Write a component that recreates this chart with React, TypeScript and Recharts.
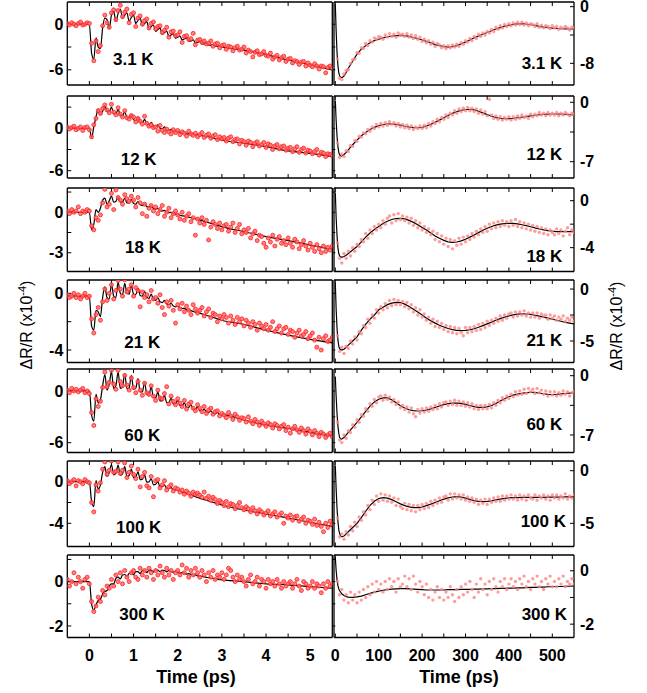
import React from "react";
import { ComposedChart, Scatter, Line, XAxis, YAxis } from "recharts";

const FONT = '"Liberation Sans", Arial, Helvetica, sans-serif';

const TEMPS = ["3.1 K", "12 K", "18 K", "21 K", "60 K", "100 K", "300 K"];

// time grids (ps)
const L_T = [
  -0.5, -0.45, -0.4, -0.35, -0.3, -0.25, -0.2, -0.15, -0.1, -0.05,
  0, 0.05, 0.1, 0.15, 0.2, 0.25, 0.3, 0.35, 0.4, 0.45,
  0.5, 0.55, 0.6, 0.65, 0.7, 0.75, 0.8, 0.85, 0.9, 0.95,
  1, 1.05, 1.1, 1.15, 1.2, 1.25, 1.3, 1.35, 1.4, 1.45,
  1.5, 1.55, 1.6, 1.65, 1.7, 1.75, 1.8, 1.85, 1.9, 1.95,
  2, 2.05, 2.1, 2.15, 2.2, 2.25, 2.3, 2.35, 2.4, 2.45,
  2.5, 2.55, 2.6, 2.65, 2.7, 2.75, 2.8, 2.85, 2.9, 2.95,
  3, 3.05, 3.1, 3.15, 3.2, 3.25, 3.3, 3.35, 3.4, 3.45,
  3.5, 3.55, 3.6, 3.65, 3.7, 3.75, 3.8, 3.85, 3.9, 3.95,
  4, 4.05, 4.1, 4.15, 4.2, 4.25, 4.3, 4.35, 4.4, 4.45,
  4.5, 4.55, 4.6, 4.65, 4.7, 4.75, 4.8, 4.85, 4.9, 4.95,
  5, 5.05, 5.1, 5.15, 5.2, 5.25, 5.3, 5.35, 5.4, 5.45,
  5.5,
];
const L_FIT_T = [
  -0.5, 0,
  0.05, 0.1, 0.15, 0.2, 0.25, 0.3, 0.35, 0.4, 0.45, 0.5,
  0.55, 0.6, 0.65, 0.7, 0.75, 0.8, 0.85, 0.9, 0.95, 1,
  1.05, 1.1, 1.15, 1.2, 1.25, 1.3, 1.35, 1.4, 1.45, 1.5,
  1.55, 1.6, 1.65, 1.7, 1.75, 1.8, 1.85, 1.9, 1.95, 2,
  2.05, 2.1, 2.15, 2.2, 2.25, 2.3, 2.35, 2.4, 2.45, 2.5,
  2.55, 2.6, 2.65, 2.7, 2.75, 2.8, 2.85, 2.9, 2.95, 3,
  3.5, 4, 4.5, 5, 5.5,
];
const R_T = [
  5, 10, 15, 20, 25, 30, 35, 40, 45, 50,
  55, 60, 65, 70, 75, 80, 85, 90, 95, 100,
  105, 110, 115, 120, 125, 130, 135, 140, 145, 150,
  155, 160, 165, 170, 175, 180, 185, 190, 195, 200,
  205, 210, 215, 220, 225, 230, 235, 240, 245, 250,
  255, 260, 265, 270, 275, 280, 285, 290, 295, 300,
  305, 310, 315, 320, 325, 330, 335, 340, 345, 350,
  355, 360, 365, 370, 375, 380, 385, 390, 395, 400,
  405, 410, 415, 420, 425, 430, 435, 440, 445, 450,
  455, 460, 465, 470, 475, 480, 485, 490, 495, 500,
  505, 510, 515, 520, 525, 530, 535, 540, 545, 550,
];
const R_FIT_T = [
  0, 2, 4, 6, 8, 10, 13, 16, 20, 25, 30,
  40, 50, 60, 70, 80, 90, 100, 110, 120, 130,
  140, 150, 160, 170, 180, 190, 200, 210, 220, 230,
  240, 250, 260, 270, 280, 290, 300, 310, 320, 330,
  340, 350, 360, 370, 380, 390, 400, 410, 420, 430,
  440, 450, 460, 470, 480, 490, 500, 510, 520, 530,
  540, 550,
];

const L_XTICKS = [0, 0.5, 1, 1.5, 2, 2.5, 3, 3.5, 4, 4.5, 5];
const R_XTICKS = [0, 50, 100, 150, 200, 250, 300, 350, 400, 450, 500];

// ---------- short delay (ps) ----------
const L_DATA_3_1K = [
  0.1, -0.1, 0.2, 0, -0.2, 0.1, 0.3, -0.1, 0, 0.2,
  0.1, -2.5, -4.8, -2.2, -3.6, -2.8, -0.2, 1.2, 0.2, -0.4,
  1.5, 1.9, 0.6, 1.8, 2.5, 1.0, 1.6, 2.0, 0.2, 1.3,
  1.5, -0.3, 0.8, 1.1, 0.0, 0.5, 0.7, -0.5, 0.1, 0.3,
  -0.6, -0.3, -0.2, -1.1, -0.8, -0.4, -1.7, -1.0, -0.9, -1.5,
  -1.4, -1.0, -2.4, -1.6, -1.5, -2.0, -1.9, -1.2, -2.7, -2.1,
  -2.0, -2.4, -2.2, -2.6, -2.5, -2.2, -2.9, -2.6, -2.5, -3.1,
  -2.8, -2.7, -3.3, -2.9, -3.0, -3.5, -3.1, -2.9, -3.4, -3.3,
  -3.0, -3.8, -3.4, -3.6, -4.3, -3.7, -3.5, -4.0, -3.9, -3.6,
  -4.1, -4.2, -3.8, -4.6, -4.3, -4.1, -4.7, -4.4, -4.2, -4.9,
  -4.6, -4.5, -5.1, -4.8, -4.9, -5.3, -5.0, -4.9, -5.5, -5.1,
  -5.4, -5.6, -5.2, -5.5, -5.9, -5.5, -5.6, -6.4, -5.7, -5.5,
  -5.8,
];
const L_FIT_3_1K = [
  0, 0,
  -3.8, -4.6, -1.8, -3.0, -3.2, -0.5, 0.8, 0.6, -0.6, 1.2,
  1.7, 0.4, 1.4, 2.0, 0.8, 1.2, 1.5, 0.4, 0.9, 1.2,
  0.1, 0.5, 0.8, -0.2, 0.1, 0.35, -0.6, -0.3, -0.1, -0.95,
  -0.7, -0.5, -1.3, -1.1, -0.9, -1.6, -1.4, -1.25, -1.85, -1.7,
  -1.55, -2.05, -1.95, -1.8, -2.25, -2.2, -2.05, -2.45, -2.4, -2.25,
  -2.6, -2.6, -2.45, -2.75, -2.75, -2.65, -2.9, -2.9, -2.85, -3.0,
  -3.4, -4.0, -4.7, -5.35, -6.0,
];

const L_DATA_12K = [
  0.2, -0.1, 0.1, 0.3, -0.2, 0, 0.2, -0.3, 0.1, 0.2,
  -0.2, -1.2, 0.5, 1.4, 2.5, 2.1, 2.8, 3.3, 2.6, 2.2,
  3.4, 2.3, 1.9, 2.9, 2.0, 1.6, 2.5, 1.5, 1.3, 1.8,
  1.6, 0.9, 1.4, 1.0, 0.6, 1.7, 0.7, 0.3, 0.5, 0.1,
  0.2, -0.4, 0.4, -0.3, -0.6, -0.1, -0.5, -0.8, -0.2, -0.6,
  -0.3, -0.9, -0.5, -0.7, -1.1, -0.4, -0.8, -1.0, -0.7, -1.2,
  -0.9, -0.6, -1.3, -1.0, -0.8, -1.4, -1.1, -0.9, -1.6, -1.2,
  -1.5, -1.3, -1.8, -1.4, -1.2, -1.9, -1.6, -1.5, -2.2, -1.7,
  -1.9, -2.4, -1.8, -2.0, -2.6, -2.1, -1.9, -2.5, -2.3, -2.0,
  -2.7, -2.2, -2.4, -3.0, -2.5, -2.3, -2.9, -2.6, -2.5, -3.1,
  -2.8, -2.7, -3.3, -2.9, -2.6, -3.4, -3.0, -2.8, -3.5, -3.1,
  -3.2, -3.6, -3.3, -3.0, -3.8, -3.4, -3.5, -4.0, -3.6, -3.7,
  -3.9,
];
const L_FIT_12K = [
  0, 0,
  -1.4, 0.2, 1.6, 2.7, 2.0, 2.4, 3.2, 2.4, 2.3, 3.0,
  2.1, 2.0, 2.7, 1.85, 1.75, 2.35, 1.55, 1.45, 1.95, 1.2,
  1.1, 1.6, 0.9, 0.8, 1.25, 0.6, 0.5, 0.85, 0.3, 0.2,
  0.5, 0.0, -0.05, 0.2, -0.25, -0.3, -0.15, -0.45, -0.5, -0.4,
  -0.6, -0.65, -0.6, -0.75, -0.8, -0.75, -0.85, -0.9, -0.85, -0.95,
  -1.05, -1.1, -1.15, -1.2, -1.3, -1.35, -1.45, -1.5, -1.55, -1.65,
  -2.1, -2.6, -3.2, -3.55, -4.0,
];

const L_DATA_18K = [
  0.1, -0.1, 0.2, 0.0, 0.1, 0.4, -0.1, 0.1, 0.0, 0.2,
  0.1, -1.0, -1.3, -0.4, -0.6, -0.2, 0.7, 1.7, 0.4, 0.6,
  1.4, 0.2, 1.65, 1.1, 0.9, 0.6, 1.3, 1.0, 0.8, 1.2,
  0.9, 0.4, 1.1, 0.7, -0.1, 0.6, -0.3, 0.3, 0.5, 0.1,
  0.4, -0.1, 0.2, 0.5, -0.3, 0.0, 0.3, -0.4, -0.1, 0.1,
  -0.2, -0.5, 0.0, -0.6, -0.3, -0.1, -0.7, -0.4, -1.7, -0.5,
  -0.8, -0.4, -0.9, -0.6, -2.05, -1.1, -0.7, -0.9, -1.2, -0.8,
  -1.3, -1.0, -0.9, -1.4, -1.1, -0.8, -1.5, -1.2, -0.9, -1.6,
  -1.3, -1.5, -1.2, -1.9, -1.6, -1.4, -2.1, -1.7, -1.8, -2.3,
  -2.6, -1.9, -2.2, -1.7, -2.5, -2.0, -1.8, -2.3, -2.1, -2.4,
  -1.9, -2.3, -2.6, -2.0, -2.2, -2.7, -2.4, -2.1, -2.5, -2.8,
  -2.3, -2.6, -2.9, -2.4, -2.7, -3.0, -2.5, -2.9, -2.6, -2.8,
  -2.5,
];
const L_FIT_18K = [
  0, 0,
  -1.3, -0.9, 0.2, 0.0, 0.3, 0.9, 1.05, 0.6, 0.85, 1.2,
  0.75, 0.8, 1.15, 0.75, 0.75, 1.05, 0.7, 0.7, 0.95, 0.65,
  0.6, 0.8, 0.55, 0.5, 0.65, 0.42, 0.38, 0.48, 0.28, 0.24,
  0.3, 0.14, 0.1, 0.14, 0.02, -0.02, 0.0, -0.1, -0.14, -0.16,
  -0.22, -0.26, -0.28, -0.33, -0.36, -0.4, -0.44, -0.48, -0.52, -0.57,
  -0.62, -0.67, -0.72, -0.77, -0.82, -0.87, -0.92, -0.97, -1.01, -1.06,
  -1.44, -1.8, -2.1, -2.43, -2.75,
];

const L_DATA_21K = [
  -0.1, -0.3, -0.2, 0.0, -0.3, -0.1, -0.4, -0.2, 0.0, -0.3,
  -0.2, -1.8, -2.8, -1.5, -1.0, -1.9, -0.6, 0.3, -0.5, 0.0,
  0.6, -0.4, 0.2, 0.9, 0.3, -0.2, 0.95, 0.1, 0.3, 0.6,
  -0.2, 0.4, 0.2, -0.95, 0.1, -0.3, -0.1, -0.6, 0.2, -0.4,
  -0.3, -0.7, -0.1, -1.0, -1.5, -0.6, -0.9, -0.5, -1.2, -2.1,
  -0.8, -1.1, -0.7, -1.3, -0.9, -1.2, -1.5, -0.8, -1.1, -1.4,
  -1.2, -1.0, -1.6, -1.3, -1.1, -1.7, -1.4, -1.5, -2.0, -1.6,
  -1.8, -1.5, -1.7, -2.1, -1.6, -1.9, -2.2, -1.7, -2.0, -1.8,
  -2.3, -1.9, -2.1, -2.4, -2.0, -2.2, -2.6, -2.1, -2.3, -2.5,
  -2.2, -2.6, -2.4, -2.0, -2.7, -2.5, -2.3, -2.8, -2.5, -2.4,
  -2.9, -2.6, -2.7, -3.1, -2.8, -2.6, -3.0, -2.9, -2.7, -3.2,
  -3.0, -2.8, -3.3, -3.8, -3.1, -4.0, -3.2, -3.0, -3.4, -3.3,
  -3.1,
];
const L_FIT_21K = [
  -0.2, -0.2,
  -2.3, -2.6, -1.2, -1.3, -1.65, -0.3, 0.45, -0.3, -0.4, 0.65,
  -0.2, -0.3, 0.8, 0.0, -0.1, 0.7, 0.0, -0.05, 0.55, -0.05,
  -0.1, 0.35, -0.15, -0.2, 0.15, -0.3, -0.35, -0.05, -0.45, -0.5,
  -0.3, -0.6, -0.65, -0.5, -0.75, -0.8, -0.7, -0.9, -0.95, -0.9,
  -1.02, -1.07, -1.06, -1.15, -1.2, -1.22, -1.28, -1.33, -1.36, -1.4,
  -1.45, -1.5, -1.55, -1.6, -1.65, -1.7, -1.75, -1.8, -1.85, -1.9,
  -2.2, -2.6, -2.95, -3.25, -3.5,
];

const L_DATA_60K = [
  0.1, -0.2, 0.3, 0.0, 0.2, -0.1, 0.1, 0.3, -0.2, 0.0,
  -0.3, -2.5, -4.0, -0.9, -1.8, -1.2, 0.4, 2.2, 0.5, 1.0,
  2.4, 0.8, 0.2, 2.4, 1.1, 0.6, 1.8, 0.7, 0.1, 1.5,
  0.4, -0.2, 1.1, 0.1, -0.5, 0.9, -0.2, -0.4, 0.6, -0.6,
  -1.1, 0.1, -0.8, -0.9, -0.3, 0.5, -1.5, -0.6, -1.2, -1.6,
  -0.9, -1.4, -1.8, -1.1, -2.1, -1.5, -1.3, -2.0, -2.3, -1.6,
  -2.0, -2.4, -1.8, -2.6, -2.2, -2.0, -2.7, -2.4, -2.3, -2.9,
  -2.6, -2.8, -3.1, -2.5, -2.9, -3.3, -2.7, -3.0, -3.4, -3.1,
  -3.2, -3.6, -3.0, -3.5, -3.8, -3.3, -3.6, -4.0, -3.5, -3.8,
  -4.1, -3.7, -3.9, -4.3, -3.8, -4.0, -4.4, -4.1, -3.9, -4.6,
  -4.2, -4.9, -4.4, -4.1, -4.5, -4.8, -4.3, -4.6, -5.0, -4.4,
  -4.7, -5.1, -4.6, -4.9, -5.3, -4.8, -5.0, -5.4, -5.1, -4.9,
  -5.3,
];
const L_FIT_60K = [
  0, 0,
  -2.8, -3.5, -0.4, -1.4, -1.0, 0.6, 1.9, 0.1, 0.8, 2.25,
  0.3, 0.6, 2.2, 0.3, 0.5, 2.0, 0.25, 0.35, 1.8, 0.2,
  0.3, 1.45, -0.1, -0.1, 1.0, -0.4, -0.45, 0.5, -0.75, -0.8,
  -0.1, -1.15, -1.15, -0.5, -1.35, -1.35, -0.8, -1.5, -1.5, -1.05,
  -1.7, -1.7, -1.35, -1.9, -1.9, -1.6, -2.1, -2.1, -1.85, -2.3,
  -2.3, -2.1, -2.45, -2.5, -2.3, -2.6, -2.65, -2.5, -2.75, -2.75,
  -3.37, -3.95, -4.35, -4.8, -5.2,
];

const L_DATA_100K = [
  0.1, -0.2, 0.0, 0.2, -0.4, 0.1, 0.0, -0.2, 0.2, 0.0,
  -0.1, -2.0, -2.9, -0.3, -0.9, -0.1, 1.2, 1.9, 0.7, 1.1,
  2.0, 0.9, 1.0, 1.9, 0.8, 1.1, 1.8, 0.4, 0.9, 1.5,
  0.7, 0.3, 1.2, -0.5, 0.5, 0.9, -0.4, -0.6, 0.5, -1.45,
  0.1, 0.2, -0.6, -0.3, 0.1, -0.8, -0.5, -0.3, -0.9, -0.6,
  -0.7, -1.0, -0.8, -1.2, -0.9, -1.1, -1.4, -1.0, -1.2, -1.1,
  -1.3, -1.5, -1.0, -1.6, -1.4, -1.8, -1.5, -1.7, -2.1, -1.8,
  -2.0, -2.3, -1.9, -2.4, -2.1, -2.2, -2.6, -2.3, -2.0, -2.5,
  -2.7, -2.4, -2.6, -2.9, -2.5, -2.8, -3.1, -2.7, -2.9, -3.2,
  -3.0, -2.8, -3.3, -3.1, -2.9, -3.4, -3.2, -3.0, -4.0, -3.3,
  -3.5, -3.2, -3.7, -3.4, -3.3, -3.8, -3.6, -3.4, -4.0, -3.7,
  -3.8, -4.1, -3.6, -4.2, -3.9, -4.3, -4.8, -4.0, -4.4, -3.8,
  -4.1,
];
const L_FIT_100K = [
  0, 0,
  -1.9, -2.4, 0.1, -0.7, -0.3, 0.9, 1.45, 0.5, 0.9, 1.65,
  0.65, 0.8, 1.6, 0.6, 0.75, 1.45, 0.5, 0.6, 1.2, 0.4,
  0.45, 0.95, 0.2, 0.25, 0.65, -0.05, 0.0, 0.3, -0.3, -0.25,
  0.0, -0.5, -0.45, -0.3, -0.65, -0.65, -0.55, -0.8, -0.8, -0.8,
  -0.9, -0.98, -1.05, -1.12, -1.2, -1.28, -1.36, -1.44, -1.52, -1.6,
  -1.66, -1.72, -1.78, -1.85, -1.92, -1.98, -2.05, -2.11, -2.18, -2.24,
  -2.72, -3.1, -3.5, -3.9, -4.3,
];

const L_DATA_300K = [
  0.1, -0.2, 0.0, 0.4, -0.1, 0.2, 0.0, -0.3, 0.1, 0.2,
  -0.1, -0.9, -1.35, -1.1, -0.7, -0.9, -0.4, -0.6, -0.2, -0.3,
  0.1, -0.2, 0.3, 0.0, 0.4, -0.1, 0.5, 0.2, 0.0, 0.4,
  0.5, 0.2, 0.1, 0.6, 0.3, 0.5, 0.2, 0.6, 0.4, 0.1,
  0.5, 0.3, 0.7, 0.4, 0.2, 0.6, 0.3, 0.5, 0.1, 0.4,
  0.5, 0.3, 0.75, 0.4, 0.6, 0.2, 0.5, 0.3, 0.6, 0.4,
  0.2, 0.5, 0.3, 0.0, 0.4, 0.2, 0.5, 0.1, 0.3, 0.2,
  0.4, 0.1, 0.3, 0.6, 0.5, 0.2, 0.0, 0.3, 0.1, 0.2,
  0.0, -0.2, 0.1, 0.3, -0.1, 0.0, 0.2, -0.2, 0.1, 0.0,
  -0.3, 0.1, -0.1, 0.0, -0.2, 0.1, -0.1, -0.3, 0.0, -0.2,
  -0.1, 0.0, -0.3, -0.1, 0.1, -0.2, -0.4, 0.0, -0.1, -0.3,
  -0.2, 0.0, -0.3, -0.1, -0.2, -0.5, -0.1, -0.3, 0.0, -0.2,
  -0.1,
];
const L_FIT_300K = [
  0, 0,
  -1.0, -1.28, -1.05, -0.85, -0.8, -0.55, -0.45, -0.4, -0.2, -0.1,
  -0.1, 0.15, 0.2, 0.12, 0.3, 0.32, 0.22, 0.38, 0.4, 0.3,
  0.45, 0.45, 0.36, 0.5, 0.5, 0.4, 0.52, 0.52, 0.43, 0.53,
  0.52, 0.45, 0.52, 0.5, 0.44, 0.5, 0.47, 0.42, 0.46, 0.42,
  0.38, 0.41, 0.37, 0.34, 0.36, 0.32, 0.29, 0.3, 0.26, 0.24,
  0.24, 0.21, 0.19, 0.18, 0.16, 0.14, 0.13, 0.11, 0.09, 0.08,
  0.0, -0.1, -0.15, -0.23, -0.3,
];

// ---------- long delay (ps) ----------
const R_DATA_3_1K = [
  -7.4, -10.1, -10.3, -9.5, -9.0, -8.9, -8.0, -7.5, -7.4, -6.5,
  -6.6, -5.8, -5.9, -5.2, -5.5, -4.8, -5.0, -4.4, -4.6, -4.2,
  -4.3, -4.6, -4.0, -4.3, -3.8, -4.2, -3.9, -4.3, -3.7, -4.0,
  -3.9, -4.2, -3.8, -4.3, -4.0, -4.5, -4.1, -4.6, -4.3, -4.9,
  -4.6, -5.1, -4.8, -5.3, -5.0, -5.6, -5.2, -5.4, -5.8, -5.5,
  -5.9, -5.5, -5.8, -5.4, -5.7, -5.3, -5.6, -5.1, -5.3, -4.8,
  -5.0, -4.5, -4.8, -4.2, -4.5, -3.9, -4.2, -3.7, -4.0, -3.5,
  -3.7, -3.2, -3.5, -2.9, -3.2, -2.7, -3.0, -2.5, -2.8, -2.4,
  -2.7, -2.3, -2.6, -2.2, -2.5, -2.2, -2.6, -2.3, -2.7, -2.4,
  -2.5, -2.8, -2.4, -2.9, -2.6, -3.0, -2.7, -2.8, -3.1, -2.7,
  -3.0, -2.8, -3.2, -2.9, -3.1, -2.8, -3.0, -3.3, -2.9, -3.0,
];
const R_FIT_3_1K = [
  0.3, -3.5, -6.5, -8.3, -9.3, -9.8, -10.0, -10.0, -9.8, -9.3, -8.7,
  -7.7, -6.7, -6.0, -5.5, -5.1, -4.8, -4.6, -4.4, -4.25, -4.15,
  -4.1, -4.05, -4.1, -4.2, -4.35, -4.5, -4.7, -4.9, -5.1, -5.35,
  -5.5, -5.65, -5.7, -5.65, -5.5, -5.25, -5.0, -4.7, -4.4, -4.15,
  -3.9, -3.65, -3.4, -3.15, -2.95, -2.75, -2.6, -2.5, -2.42, -2.4,
  -2.45, -2.55, -2.65, -2.78, -2.88, -2.97, -3.03, -3.08, -3.12, -3.14,
  -3.15, -3.15,
];

const R_DATA_12K = [
  -4.8, -6.5, -6.1, -6.4, -5.7, -5.8, -5.1, -5.2, -4.5, -4.6,
  -4.0, -4.1, -3.6, -3.7, -3.2, -3.4, -2.9, -3.1, -2.6, -2.9,
  -2.5, -2.8, -2.4, -2.7, -2.3, -2.6, -2.4, -2.8, -2.5, -2.9,
  -2.6, -3.0, -2.7, -3.1, -2.8, -3.2, -2.9, -3.1, -2.8, -3.1,
  -2.7, -3.0, -2.5, -2.8, -2.3, -2.5, -2.0, -2.3, -1.8, -2.0,
  -1.5, -1.8, -1.3, -1.5, -1.0, -1.3, -0.8, -1.1, -0.7, -1.0,
  -0.6, -1.0, -0.7, -1.1, -0.8, -1.3, -0.9, -1.4, -1.1, -1.6,
  0.35, -1.5, -1.9, -1.6, -2.0, -1.7, -2.1, -1.8, -2.0, -1.7,
  -2.1, -1.7, -2.0, -1.6, -1.9, -1.5, -1.8, -1.6, -1.9, -1.4,
  -1.7, -1.4, -1.6, -1.2, -1.5, -1.3, -1.6, -1.2, -1.5, -1.3,
  -1.5, -1.2, -1.6, -1.3, -1.5, -1.2, -1.4, -1.6, -1.3, -1.4,
];
const R_FIT_12K = [
  0.2, -2.2, -4.0, -5.2, -5.9, -6.2, -6.35, -6.3, -6.15, -5.9, -5.6,
  -5.0, -4.45, -3.95, -3.55, -3.2, -2.95, -2.75, -2.62, -2.56, -2.55,
  -2.6, -2.7, -2.82, -2.92, -2.98, -3.0, -2.95, -2.8, -2.6, -2.35,
  -2.1, -1.82, -1.55, -1.3, -1.1, -0.95, -0.85, -0.83, -0.9, -1.05,
  -1.25, -1.45, -1.65, -1.8, -1.88, -1.92, -1.92, -1.88, -1.82, -1.75,
  -1.68, -1.6, -1.53, -1.47, -1.42, -1.39, -1.38, -1.38, -1.4, -1.43,
  -1.46, -1.5,
];

const R_DATA_18K = [
  -3.6, -4.9, -5.3, -4.5, -4.9, -4.3, -4.7, -4.0, -4.3, -3.7,
  -3.9, -3.3, -3.5, -2.8, -3.2, -2.5, -2.8, -2.2, -2.5, -2.0,
  -2.3, -1.7, -2.0, -1.5, -1.3, -1.9, -1.2, -1.7, -1.1, -1.6,
  -1.3, -1.7, -1.4, -1.9, -1.5, -2.1, -1.7, -2.3, -1.9, -2.5,
  -2.2, -2.7, -2.4, -2.9, -2.6, -3.3, -2.8, -3.5, -3.0, -3.7,
  -3.2, -3.9, -3.3, -4.1, -3.4, -3.8, -3.2, -3.7, -3.1, -3.5,
  -3.0, -3.3, -2.8, -3.1, -2.6, -2.9, -2.4, -2.7, -2.2, -2.6,
  -2.0, -2.4, -1.9, -2.3, -1.8, -2.2, -1.7, -2.1, -1.8, -2.2,
  -1.7, -2.1, -1.6, -2.2, -1.8, -2.3, -1.9, -2.4, -2.0, -2.5,
  -2.1, -2.6, -2.2, -2.7, -2.3, -2.8, -2.4, -2.9, -2.5, -2.7,
  -2.9, -2.4, -2.8, -2.5, -3.0, -2.6, -2.3, -2.9, -2.5, -2.7,
];
const R_FIT_18K = [
  0.7, -1.5, -3.0, -4.0, -4.5, -4.7, -4.8, -4.8, -4.75, -4.65, -4.5,
  -4.2, -3.9, -3.5, -3.1, -2.75, -2.45, -2.2, -1.95, -1.75, -1.6,
  -1.52, -1.5, -1.55, -1.68, -1.85, -2.05, -2.28, -2.5, -2.75, -3.0,
  -3.2, -3.38, -3.5, -3.55, -3.52, -3.42, -3.28, -3.1, -2.92, -2.72,
  -2.52, -2.35, -2.2, -2.08, -2.0, -1.95, -1.93, -1.94, -1.98, -2.05,
  -2.13, -2.22, -2.32, -2.41, -2.49, -2.55, -2.6, -2.63, -2.64, -2.64,
  -2.64, -2.64,
];

const R_DATA_21K = [
  -4.5, -6.0, -5.6, -6.2, -5.5, -5.7, -5.0, -5.3, -4.6, -4.9,
  -4.1, -4.3, -3.5, -3.7, -2.9, -3.3, -2.5, -2.8, -2.0, -2.3,
  -1.7, -2.0, -1.4, -1.8, -1.1, -1.6, -1.0, -1.5, -1.1, -1.5,
  -1.2, -1.7, -1.3, -1.9, -1.5, -2.2, -1.8, -2.5, -2.0, -2.7,
  -2.4, -3.0, -2.7, -3.3, -2.9, -3.6, -3.1, -3.7, -3.3, -3.9,
  -3.5, -4.1, -3.6, -4.2, -3.7, -4.3, -3.8, -4.2, -4.5, -3.7,
  -4.2, -3.7, -4.1, -3.6, -4.0, -3.4, -3.9, -3.3, -3.7, -3.1,
  -3.5, -3.0, -3.3, -2.8, -3.1, -2.6, -3.0, -2.5, -2.8, -2.4,
  -2.3, -2.7, -2.2, -2.6, -2.2, -2.5, -2.1, -2.6, -2.3, -2.7,
  -2.3, -2.7, -2.3, -2.8, -2.4, -2.6, -2.5, -2.9, -2.5, -2.8,
  -2.6, -3.0, -2.7, -2.9, -2.6, -3.1, -2.8, -3.0, -2.7, -3.1,
];
const R_FIT_21K = [
  0.6, -2.0, -3.8, -4.9, -5.5, -5.75, -5.85, -5.85, -5.8, -5.6, -5.4,
  -5.0, -4.6, -3.95, -3.4, -2.9, -2.5, -2.0, -1.75, -1.5, -1.35,
  -1.28, -1.3, -1.45, -1.68, -1.95, -2.22, -2.5, -2.8, -3.05, -3.28,
  -3.48, -3.65, -3.8, -3.9, -3.97, -4.0, -3.98, -3.92, -3.82, -3.68,
  -3.52, -3.35, -3.18, -3.0, -2.85, -2.7, -2.58, -2.48, -2.42, -2.39,
  -2.4, -2.44, -2.52, -2.6, -2.7, -2.8, -2.9, -3.0, -3.1, -3.2,
  -3.28, -3.36,
];

const R_DATA_60K = [
  -5.5, -7.6, -7.9, -7.0, -7.4, -6.5, -6.7, -5.8, -6.1, -5.2,
  -5.5, -4.6, -4.8, -3.9, -4.2, -3.3, -3.6, -2.8, -3.2, -2.5,
  -2.4, -2.9, -2.3, -2.8, -2.5, -3.1, -2.8, -3.4, -3.1, -3.8,
  -3.5, -4.0, -3.7, -4.3, -3.8, -4.5, -4.85, -4.0, -4.4, -3.9,
  -4.3, -3.8, -4.2, -3.7, -4.0, -3.5, -3.9, -3.3, -3.7, -3.2,
  -3.1, -3.5, -3.0, -3.4, -2.9, -3.5, -3.0, -3.5, -3.1, -3.6,
  -3.2, -3.7, -3.3, -3.9, -3.5, -4.0, -3.5, -3.9, -3.5, -3.9,
  -3.4, -3.8, -3.2, -3.5, -2.9, -3.2, -2.6, -2.9, -2.4, -2.7,
  -2.2, -2.5, -1.9, -2.3, -1.8, -2.2, -1.6, -2.1, -1.5, -1.9,
  -1.6, -2.1, -1.5, -2.0, -1.7, -2.2, -1.8, -2.4, -1.9, -2.3,
  -1.9, -2.4, -2.0, -2.3, -1.8, -2.2, -1.9, -2.4, -2.0, -1.9,
];
const R_FIT_60K = [
  -0.1, -2.5, -4.5, -5.9, -6.8, -7.3, -7.5, -7.45, -7.3, -7.0, -6.7,
  -6.1, -5.5, -4.85, -4.2, -3.6, -3.1, -2.78, -2.62, -2.62, -2.85,
  -3.2, -3.55, -3.82, -4.02, -4.13, -4.17, -4.14, -4.05, -3.92, -3.75,
  -3.58, -3.42, -3.3, -3.24, -3.23, -3.28, -3.38, -3.52, -3.65, -3.73,
  -3.74, -3.68, -3.52, -3.28, -3.0, -2.72, -2.48, -2.3, -2.18, -2.08,
  -2.0, -1.97, -1.98, -2.05, -2.13, -2.2, -2.22, -2.2, -2.15, -2.1,
  -2.05, -2.0,
];

const R_DATA_100K = [
  -4.5, -6.3, -6.0, -6.5, -5.8, -6.1, -5.3, -5.7, -4.9, -5.3,
  -4.4, -4.7, -3.9, -4.2, -3.3, -3.7, -2.8, -3.2, -2.4, -2.9,
  -2.2, -2.8, -2.3, -2.9, -2.4, -3.0, -2.6, -3.3, -2.7, -3.4,
  -3.6, -3.1, -3.7, -3.2, -3.8, -3.3, -3.9, -3.3, -3.7, -3.2,
  -3.6, -3.1, -3.5, -2.9, -3.3, -2.8, -3.1, -2.6, -3.0, -2.5,
  -2.4, -2.8, -2.2, -2.7, -2.2, -2.6, -2.3, -2.7, -2.3, -2.8,
  -2.5, -2.9, -2.6, -3.0, -2.7, -3.2, -2.8, -3.1, -2.7, -3.2,
  -2.7, -3.0, -2.6, -2.9, -2.5, -2.9, -2.4, -2.8, -2.4, -2.7,
  -2.3, -2.7, -2.4, -2.8, -2.3, -2.7, -2.4, -2.8, -2.3, -2.6,
  -2.7, -2.3, -2.8, -2.4, -2.6, -2.3, -2.7, -2.4, -2.8, -2.3,
  -2.6, -2.3, -2.7, -2.4, -2.6, -2.2, -2.7, -2.4, -2.6, -2.3,
];
const R_FIT_100K = [
  0.5, -1.8, -3.6, -4.8, -5.6, -6.0, -6.25, -6.27, -6.2, -6.0, -5.8,
  -5.4, -5.0, -4.45, -3.85, -3.3, -2.9, -2.65, -2.56, -2.6, -2.75,
  -2.95, -3.15, -3.32, -3.44, -3.5, -3.51, -3.45, -3.32, -3.18, -3.02,
  -2.85, -2.7, -2.58, -2.5, -2.47, -2.5, -2.6, -2.72, -2.85, -2.92,
  -2.94, -2.92, -2.86, -2.78, -2.7, -2.63, -2.58, -2.56, -2.55, -2.54,
  -2.53, -2.53, -2.53, -2.53, -2.53, -2.52, -2.52, -2.51, -2.5, -2.49,
  -2.48, -2.47,
];

const R_DATA_300K = [
  -0.4, -0.9, -0.7, -1.1, -0.9, -1.2, -0.8, -1.1, -0.9, -1.2,
  -0.8, -1.1, -0.7, -1.0, -0.6, -0.9, -0.5, -0.8, -0.4, -0.7,
  -0.5, -0.8, -0.4, -0.7, -0.3, -0.6, -0.4, -0.8, -0.3, -0.6,
  -0.5, -0.2, -0.6, -0.3, -0.7, -0.2, -0.5, -0.8, -0.4, -0.6,
  -0.9, -0.5, -1.0, -0.7, -1.1, -0.8, -0.6, -1.0, -0.7, -1.1,
  -0.8, -1.0, -0.6, -0.9, -1.15, -0.7, -1.0, -0.6, -0.9, -0.5,
  -0.8, -0.4, -0.7, -1.0, -0.5, -0.8, -0.3, -0.7, -0.5, -0.9,
  -0.4, -0.7, -0.3, -0.6, -0.8, -0.4, -0.6, -0.3, -0.7, -0.5,
  -0.3, -0.6, -0.4, -0.7, -0.3, -0.5, -0.2, -0.6, -0.4, -0.7,
  -0.3, -0.5, -0.2, -0.6, -0.4, -0.7, -0.3, -0.5, -0.2, -0.6,
  -0.4, -0.6, -0.3, -0.5, -0.2, -0.6, -0.4, -0.5, -0.3, -0.5,
];
const R_FIT_300K = [
  0.5, 0.0, -0.35, -0.55, -0.68, -0.75, -0.82, -0.88, -0.93, -0.97, -0.99,
  -1.0, -0.98, -0.95, -0.9, -0.85, -0.8, -0.76, -0.73, -0.71, -0.69,
  -0.68, -0.67, -0.67, -0.68, -0.69, -0.7, -0.71, -0.72, -0.72, -0.72,
  -0.72, -0.72, -0.71, -0.71, -0.71, -0.7, -0.7, -0.7, -0.69, -0.69,
  -0.68, -0.68, -0.67, -0.67, -0.66, -0.66, -0.65, -0.65, -0.64, -0.64,
  -0.63, -0.62, -0.62, -0.61, -0.61, -0.6, -0.6, -0.59, -0.59, -0.58,
  -0.58, -0.57,
];

const L_DATA = [L_DATA_3_1K, L_DATA_12K, L_DATA_18K, L_DATA_21K, L_DATA_60K, L_DATA_100K, L_DATA_300K];
const L_FIT = [L_FIT_3_1K, L_FIT_12K, L_FIT_18K, L_FIT_21K, L_FIT_60K, L_FIT_100K, L_FIT_300K];
const R_DATA = [R_DATA_3_1K, R_DATA_12K, R_DATA_18K, R_DATA_21K, R_DATA_60K, R_DATA_100K, R_DATA_300K];
const R_FIT = [R_FIT_3_1K, R_FIT_12K, R_FIT_18K, R_FIT_21K, R_FIT_60K, R_FIT_100K, R_FIT_300K];

// y axes per row
const L_Y = [
  { domain: [-8.0, 2.93], ticks: [-6, -3, 0], labels: [0, -6] },
  { domain: [-7.03, 4.57], ticks: [-6, -3, 0, 3], labels: [0, -6] },
  { domain: [-4.39, 1.8], ticks: [-3, -1.5, 0, 1.5], labels: [0, -3] },
  { domain: [-4.88, 0.94], ticks: [-4, -2, 0], labels: [0, -4] },
  { domain: [-7.14, 2.55], ticks: [-6, -3, 0], labels: [0, -6] },
  { domain: [-6.23, 1.99], ticks: [-4, -2, 0], labels: [0, -4] },
  { domain: [-2.52, 1.2], ticks: [-2, -1, 0, 1], labels: [0, -2] },
];
const R_Y = [
  { domain: [-11.06, 0.66], ticks: [-8, -4, 0], labels: [0, -8] },
  { domain: [-8.92, 0.74], ticks: [-7, -3.5, 0], labels: [0, -7] },
  { domain: [-6.03, 1.08], ticks: [-4, -2, 0], labels: [0, -4] },
  { domain: [-7.07, 0.87], ticks: [-5, -2.5, 0], labels: [0, -5] },
  { domain: [-9.07, 0.79], ticks: [-7, -3.5, 0], labels: [0, -7] },
  { domain: [-7.2, 0.92], ticks: [-5, -2.5, 0], labels: [0, -5] },
  { domain: [-2.5, 0.59], ticks: [-2, -1, 0], labels: [0, -2] },
];

const ROW_TOP = [2, 96, 188, 280, 369, 461, 555];
const ROW_BOTTOM = [85, 178, 271.5, 362.5, 452.5, 546.5, 637.5];

const L_LABEL = [[113, 65], [120.7, 165], [125, 252.7], [124.3, 348.3], [124.3, 441], [116, 532.7], [119.3, 620]];
const R_LABEL = [[562.3, 69], [562.3, 160], [562.3, 262.3], [562.3, 345.7], [562.3, 430], [566, 527.3], [567, 620]];

const zip = (ts: number[], vs: number[]) => ts.map((t, i) => ({ t, v: vs[i] }));

const tickStyle = { fontSize: 16, fontWeight: 700, fill: "#000", fontFamily: FONT };
const axisStyle = { stroke: "#000", strokeWidth: 1.3 };
const tickLineStyle = { stroke: "#000", strokeWidth: 1 };

const bigDot = (p: any) => (
  <circle cx={p.cx} cy={p.cy} r={2.0} fill="#ff6a6a" fillOpacity={0.85} stroke="#ff1f1f" strokeWidth={0.8} />
);
const smallDot = (p: any) => (
  <circle cx={p.cx} cy={p.cy} r={1.7} fill="#ff8484" fillOpacity={0.8} />
);

function Panel({ side, row }: { side: "left" | "right"; row: number }) {
  const isL = side === "left";
  const top = ROW_TOP[row];
  const bottom = ROW_BOTTOM[row];
  const last = row === 6;
  const plotL = isL ? 67.3 : 334.3;
  const plotR = isL ? 332.3 : 574.3;
  const wl = isL ? plotL : 6;
  const wr = isL ? 6 : 60;
  const ht = 8;
  const hb = last ? 36 : 6;
  const w = wl + (plotR - plotL) + wr;
  const h = ht + (bottom - top) + hb;
  const y = isL ? L_Y[row] : R_Y[row];
  const xDomain = isL ? [-0.5, 5.5] : [-3, 550];
  const xTicks = isL ? L_XTICKS : R_XTICKS;
  const data = isL ? zip(L_T, L_DATA[row]) : zip(R_T, R_DATA[row]);
  const fit = isL ? zip(L_FIT_T, L_FIT[row]) : zip(R_FIT_T, R_FIT[row]);
  const xLab = (v: number) =>
    last && (isL ? Number.isInteger(v) : v % 100 === 0) ? String(v) : "";
  const yLab = (v: number) => (y.labels.includes(v) ? String(v) : "");
  const blank = () => "";

  return (
    <div style={{ position: "absolute", left: plotL - wl, top: top - ht }}>
      <ComposedChart width={w} height={h} margin={{ top: 0, right: 0, bottom: 0, left: 0 }}>
        <XAxis
          xAxisId="b"
          dataKey="t"
          type="number"
          orientation="bottom"
          domain={xDomain}
          allowDataOverflow
          ticks={xTicks}
          interval={0}
          height={hb}
          tickSize={-4}
          tickMargin={16.5}
          tickFormatter={xLab}
          tick={tickStyle}
          axisLine={axisStyle}
          tickLine={tickLineStyle}
        />
        <XAxis
          xAxisId="t"
          dataKey="t"
          type="number"
          orientation="top"
          domain={xDomain}
          allowDataOverflow
          ticks={xTicks}
          interval={0}
          height={ht}
          tickSize={-4}
          tickFormatter={blank}
          tick={tickStyle}
          axisLine={axisStyle}
          tickLine={tickLineStyle}
        />
        <YAxis
          yAxisId="l"
          dataKey="v"
          type="number"
          orientation="left"
          domain={y.domain}
          allowDataOverflow
          ticks={y.ticks}
          interval={0}
          width={wl}
          tickSize={isL ? -4 : 0}
          tickMargin={8}
          tickFormatter={isL ? yLab : blank}
          tick={tickStyle}
          axisLine={axisStyle}
          tickLine={isL ? tickLineStyle : false}
        />
        <YAxis
          yAxisId="r"
          dataKey="v"
          type="number"
          orientation="right"
          domain={y.domain}
          allowDataOverflow
          ticks={y.ticks}
          interval={0}
          width={wr}
          tickSize={isL ? 3 : -4}
          tickMargin={10}
          tickFormatter={isL ? blank : yLab}
          tick={tickStyle}
          axisLine={axisStyle}
          tickLine={tickLineStyle}
        />
        <Scatter
          xAxisId="b"
          yAxisId="l"
          data={data}
          dataKey="v"
          shape={isL ? bigDot : smallDot}
          isAnimationActive={false}
        />
        <Line
          xAxisId="b"
          yAxisId="l"
          data={fit}
          dataKey="v"
          type={isL ? "monotone" : "linear"}
          stroke="#000"
          strokeWidth={1.2}
          dot={false}
          activeDot={false}
          isAnimationActive={false}
        />
      </ComposedChart>
    </div>
  );
}

export default function App() {
  const rows = [0, 1, 2, 3, 4, 5, 6];
  return (
    <div style={{ position: "absolute", left: 0, top: 0, width: 647, height: 693, background: "#fff" }}>
      {rows.map((r) => (
        <Panel key={"l" + r} side="left" row={r} />
      ))}
      {rows.map((r) => (
        <Panel key={"r" + r} side="right" row={r} />
      ))}
      <svg
        width={647}
        height={693}
        style={{ position: "absolute", left: 0, top: 0, pointerEvents: "none" }}
      >
        {TEMPS.map((t, i) => (
          <text key={"tl" + i} x={L_LABEL[i][0]} y={L_LABEL[i][1]} fontSize={17} fontWeight={700} fontFamily={FONT}>
            {t}
          </text>
        ))}
        {TEMPS.map((t, i) => (
          <text
            key={"tr" + i}
            x={R_LABEL[i][0]}
            y={R_LABEL[i][1]}
            fontSize={17}
            fontWeight={700}
            fontFamily={FONT}
            textAnchor="end"
          >
            {t}
          </text>
        ))}
        <text transform="translate(31.5,325) rotate(-90)" textAnchor="middle" fontSize={16} fontFamily={FONT}>
          ΔR/R (x10<tspan dy={-6} fontSize={11}>-4</tspan>
          <tspan dy={6}>)</tspan>
        </text>
        <text transform="translate(621.5,326) rotate(-90)" textAnchor="middle" fontSize={16} fontFamily={FONT}>
          ΔR/R (x10<tspan dy={-6} fontSize={11}>-4</tspan>
          <tspan dy={6}>)</tspan>
        </text>
        <text x={196} y={683} textAnchor="middle" fontSize={18} fontWeight={700} fontFamily={FONT}>
          Time (ps)
        </text>
        <text x={459} y={683} textAnchor="middle" fontSize={18} fontWeight={700} fontFamily={FONT}>
          Time (ps)
        </text>
      </svg>
    </div>
  );
}
